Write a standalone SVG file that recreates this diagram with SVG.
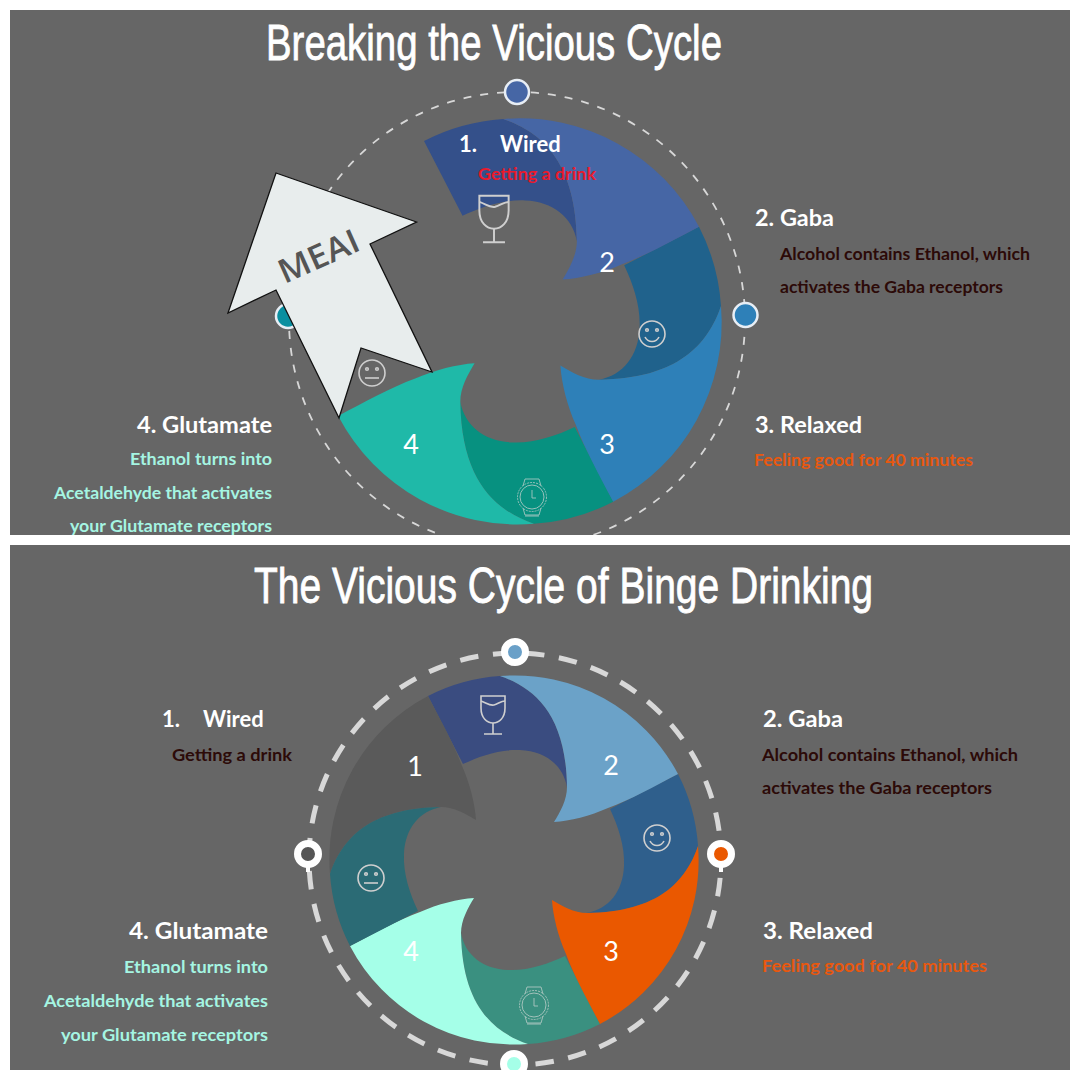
<svg xmlns="http://www.w3.org/2000/svg" width="1080" height="1080" viewBox="0 0 1080 1080">
<style>
.panel{fill:#666666}
.ti{font-family:"Liberation Sans",Arial,sans-serif;font-size:50px;fill:#fff;stroke:#fff;stroke-width:.8px}
.t{font-family:Lato,"Open Sans",sans-serif;font-weight:700}
.h{font-size:22px;fill:#fff}
.s{font-size:17.500px}
.dk{fill:#2c0a08}.or{fill:#e8580f}.mi{fill:#a5f5e2}.re{fill:#ea1a2c}
.n{font-family:Lato,"Open Sans",sans-serif;font-size:27px;fill:#fff;text-anchor:middle}
.ic{fill:none;stroke:#cfcfcf;stroke-width:1.600}
.wt{fill:none;stroke:#c4d2ce;stroke-width:1;opacity:.75}
.ring1{fill:none;stroke:#d8d8d8;stroke-width:1.800;stroke-dasharray:8 9}
.ring2{fill:none;stroke:#d8d8d8;stroke-width:5;stroke-dasharray:18.500 14.690;stroke-dashoffset:14.300}
</style>
<defs>
<clipPath id="cTop"><rect x="10" y="10" width="1060" height="525"/></clipPath>
<clipPath id="cBot"><rect x="10" y="545" width="1060" height="525"/></clipPath>
<path id="big" d="M500 676A184 184 0 0 1 678 774C655 786 630 800 608 808C590 816 570 821 554 822C560 812 567 800 567 787C566 715 535 688 500 676Z"/>
<path id="small" d="M428 696A184 184 0 0 1 500 676C535 688 566 715 567 787C563 765 545 751 520 750C500 749 480 756 463 764Z"/>
<g id="glass" class="ic"><path d="M-12-19H12V-7C12 3 6 8 0 8C-6 8-12 3-12-7Z"/><path d="M-12-14C-6-12-4-9 1-10C5-11 8-14 12-14"/><path d="M0 8V19M-9 19H9"/></g>
<g id="smile" class="ic"><circle r="13"/><circle cx="-5" cy="-4" r="1.300"/><circle cx="5" cy="-4" r="1.300"/><path d="M-7 3C-4 9 4 9 7 3"/></g>
<g id="neutral" class="ic"><circle r="13"/><circle cx="-5" cy="-4" r="1.300"/><circle cx="5" cy="-4" r="1.300"/><path d="M-7 5H7"/></g>
<g id="watch" class="wt"><circle r="14.500" stroke-dasharray="2 1"/><circle r="12"/><path d="M-9-11L-7-18H7L9-11M-9 11L-7 18H7L9 11M0-7V1H4M-7 19H7"/></g>
</defs>
<rect width="1080" height="1080" fill="#fff"/>
<rect class="panel" x="10" y="10" width="1060" height="525"/>
<rect class="panel" x="10" y="545" width="1060" height="525"/>

<g clip-path="url(#cTop)">
<g id="connectors-top"><circle class="ring1" cx="517" cy="320" r="228"/></g>
<g transform="translate(-46.8 -624.6) scale(1.1)">
<g id="top-seg-small">
<use href="#small" fill="#34508a"/>
<use href="#small" fill="#20628c" transform="rotate(90 514 860)"/>
<use href="#small" fill="#079180" transform="rotate(180 514 860)"/>
</g>
<g id="top-seg-big">
<use href="#big" fill="#4666a5"/>
<use href="#big" fill="#2e80b8" transform="rotate(90 514 860)"/>
<use href="#big" fill="#1fb9a8" transform="rotate(180 514 860)"/>
</g>
</g>
<g id="top-icons">
<use href="#glass" transform="translate(494 219) scale(1.22)"/>
<use href="#smile" x="652" y="334"/>
<use href="#neutral" x="372" y="373"/>
<use href="#watch" x="532" y="497"/>
</g>
<g id="top-dot-top"><circle cx="517" cy="92" r="12" fill="#4666a5" stroke="#e8eef5" stroke-width="2.500"/></g>
<g id="top-dot-right"><circle cx="745.500" cy="315" r="12" fill="#2e80b8" stroke="#e8eef5" stroke-width="2.500"/></g>
<g id="top-dot-left"><circle cx="288" cy="316" r="12" fill="#0a8fa0" stroke="#e8eef5" stroke-width="2.500"/></g>
<text class="n" x="607" y="272">2</text>
<text class="n" x="607" y="454">3</text>
<text class="n" x="411" y="454">4</text>
<g id="top-arrow">
<polygon points="276,173 416.500,222 370,244 432,372 361,348 339,418 276,290 228,313" fill="#e8eded" stroke="#111" stroke-width="1.300"/>
<text x="276" y="268" transform="rotate(-24 318 256)" font-family="'Open Sans',sans-serif" font-weight="600" font-size="33" fill="#555" textLength="85" lengthAdjust="spacingAndGlyphs">MEAI</text>
</g>
<text class="ti" transform="translate(266 60) scale(.78 1)" x="0" y="0" textLength="584.600" lengthAdjust="spacingAndGlyphs">Breaking the Vicious Cycle</text>
<g id="top-label-1"><text class="t h" x="459" y="152">1.<tspan x="500">Wired</tspan></text><text class="t s re" x="478" y="180" textLength="118" lengthAdjust="spacingAndGlyphs">Getting a drink</text></g>
<g id="top-label-2"><text class="t h" x="755" y="226" textLength="79" lengthAdjust="spacingAndGlyphs">2. Gaba</text><text class="t s dk" x="780" y="260" textLength="250" lengthAdjust="spacingAndGlyphs">Alcohol contains Ethanol, which</text><text class="t s dk" x="780" y="293" textLength="223" lengthAdjust="spacingAndGlyphs">activates the Gaba receptors</text></g>
<g id="top-label-3"><text class="t h" x="755" y="433" textLength="107" lengthAdjust="spacingAndGlyphs">3. Relaxed</text><text class="t s or" x="754" y="466" textLength="219" lengthAdjust="spacingAndGlyphs">Feeling good for 40 minutes</text></g>
<g id="top-label-4"><text class="t h" x="137" y="433" textLength="135" lengthAdjust="spacingAndGlyphs">4. Glutamate</text><text class="t s mi" x="130" y="465" textLength="142" lengthAdjust="spacingAndGlyphs">Ethanol turns into</text><text class="t s mi" x="54" y="499" textLength="218" lengthAdjust="spacingAndGlyphs">Acetaldehyde that activates</text><text class="t s mi" x="70" y="532" textLength="202" lengthAdjust="spacingAndGlyphs">your Glutamate receptors</text></g>
</g>

<g clip-path="url(#cBot)">
<g id="connectors-bottom"><circle class="ring2" cx="515" cy="859" r="206"/></g>
<g id="bot-seg-small">
<use href="#small" fill="#3a4c80"/>
<use href="#small" fill="#2f5f8c" transform="rotate(90 514 860)"/>
<use href="#small" fill="#3a9080" transform="rotate(180 514 860)"/>
</g>
<g id="bot-seg-big">
<use href="#big" fill="#6ba2c8"/>
<use href="#big" fill="#ea5800" transform="rotate(90 514 860)"/>
<use href="#big" fill="#a5ffe8" transform="rotate(180 514 860)"/>
<use href="#big" fill="#5a5a5a" transform="rotate(270 514 860)"/>
</g>
<use href="#small" fill="#2b6b75" transform="rotate(270 514 860)"/>
<g id="bot-icons">
<use href="#glass" x="493" y="715"/>
<use href="#smile" x="657" y="838"/>
<use href="#neutral" x="371" y="878"/>
<use href="#watch" x="534" y="1005"/>
</g>
<g id="bot-dot-top"><circle cx="515" cy="652" r="10.500" fill="#6aa0c8" stroke="#fff" stroke-width="7"/></g>
<g id="bot-dot-right"><path d="M721 866v6" stroke="#fff" stroke-width="4"/><circle cx="721" cy="854" r="10.500" fill="#ea5800" stroke="#fff" stroke-width="7"/></g>
<g id="bot-dot-left"><path d="M308 866v6" stroke="#fff" stroke-width="4"/><circle cx="308" cy="854" r="10.500" fill="#555" stroke="#fff" stroke-width="7"/></g>
<g id="bot-dot-bottom"><circle cx="514" cy="1064" r="10.500" fill="#a5ffe8" stroke="#fff" stroke-width="7"/></g>
<text class="n" x="415" y="776">1</text>
<text class="n" x="611" y="775">2</text>
<text class="n" x="611" y="961">3</text>
<text class="n" x="411" y="961">4</text>
<text class="ti" transform="translate(254 603) scale(.78 1)" x="0" y="0" textLength="793.600" lengthAdjust="spacingAndGlyphs">The Vicious Cycle of Binge Drinking</text>
<g id="bot-label-1"><text class="t h" x="162" y="727">1.<tspan x="203">Wired</tspan></text><text class="t s dk" x="172" y="761" textLength="120" lengthAdjust="spacingAndGlyphs">Getting a drink</text></g>
<g id="bot-label-2"><text class="t h" x="763" y="727" textLength="80" lengthAdjust="spacingAndGlyphs">2. Gaba</text><text class="t s dk" x="762" y="761" textLength="256" lengthAdjust="spacingAndGlyphs">Alcohol contains Ethanol, which</text><text class="t s dk" x="762" y="794" textLength="230" lengthAdjust="spacingAndGlyphs">activates the Gaba receptors</text></g>
<g id="bot-label-3"><text class="t h" x="763" y="939" textLength="110" lengthAdjust="spacingAndGlyphs">3. Relaxed</text><text class="t s or" x="762" y="972" textLength="225" lengthAdjust="spacingAndGlyphs">Feeling good for 40 minutes</text></g>
<g id="bot-label-4"><text class="t h" x="129" y="939" textLength="139" lengthAdjust="spacingAndGlyphs">4. Glutamate</text><text class="t s mi" x="124" y="973" textLength="144" lengthAdjust="spacingAndGlyphs">Ethanol turns into</text><text class="t s mi" x="44" y="1007" textLength="224" lengthAdjust="spacingAndGlyphs">Acetaldehyde that activates</text><text class="t s mi" x="61" y="1041" textLength="207" lengthAdjust="spacingAndGlyphs">your Glutamate receptors</text></g>
</g>
</svg>
